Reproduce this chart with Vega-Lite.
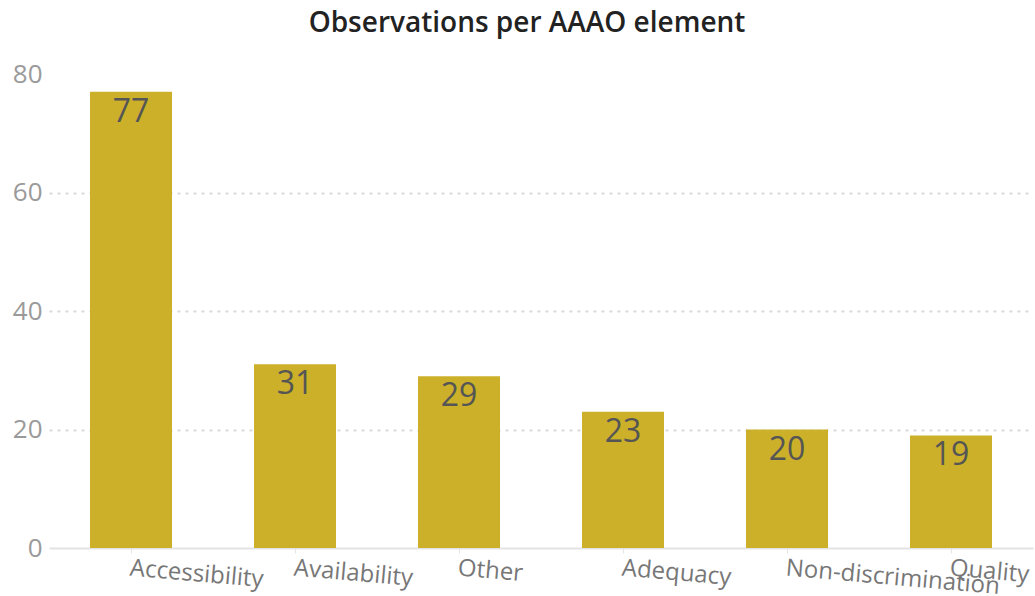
{
  "$schema": "https://vega.github.io/schema/vega-lite/v6.json",
  "width": 984,
  "height": 474,
  "autosize": {"type": "none"},
  "padding": {"left": 49, "top": 74, "right": 2, "bottom": 48},
  "background": "white",
  "title": {
    "text": "Observations per AAAO element",
    "font": "Open Sans",
    "fontSize": 28,
    "fontWeight": 600,
    "color": "#222222",
    "anchor": "middle",
    "dx": -14,
    "offset": 23
  },
  "data": {
    "values": [
      {"element": "Accessibility", "observations": 77},
      {"element": "Availability", "observations": 31},
      {"element": "Other", "observations": 29},
      {"element": "Adequacy", "observations": 23},
      {"element": "Non-discrimination", "observations": 20},
      {"element": "Quality", "observations": 19}
    ]
  },
  "config": {
    "view": {"stroke": null},
    "font": "Open Sans"
  },
  "encoding": {
    "x": {
      "field": "element",
      "type": "nominal",
      "sort": null,
      "scale": {"paddingInner": 0.5, "paddingOuter": 0.25},
      "axis": {
        "title": null,
        "labelAngle": 5,
        "labelAlign": "left",
        "labelBaseline": "top",
        "labelFont": "Open Sans",
        "labelFontSize": 24,
        "labelColor": "#777777",
        "labelPadding": 3,
        "labelOverlap": false,
        "labelLimit": 0,
        "domainColor": "#e3e3e3",
        "domainWidth": 2,
        "tickColor": "#e3e3e3",
        "tickSize": 5,
        "grid": false
      }
    },
    "y": {
      "field": "observations",
      "type": "quantitative",
      "scale": {"domain": [0, 80], "nice": false},
      "axis": {
        "title": null,
        "values": [0, 20, 40, 60, 80],
        "labelFont": "Open Sans",
        "labelFontSize": 26,
        "labelColor": "#9a9a9a",
        "labelPadding": 7,
        "ticks": false,
        "domain": false,
        "grid": true,
        "gridColor": {"condition": {"test": "datum.value === 0 || datum.value === 80", "value": "transparent"}, "value": "#d9d9d9"},
        "gridDash": [3, 5],
        "gridWidth": 2
      }
    }
  },
  "layer": [
    {
      "mark": {"type": "bar", "color": "#CCB02A"}
    },
    {
      "mark": {
        "type": "text",
        "baseline": "top",
        "dy": 5,
        "font": "Open Sans",
        "fontSize": 32,
        "color": "#555555"
      },
      "encoding": {
        "text": {"field": "observations", "type": "quantitative"}
      }
    }
  ]
}
